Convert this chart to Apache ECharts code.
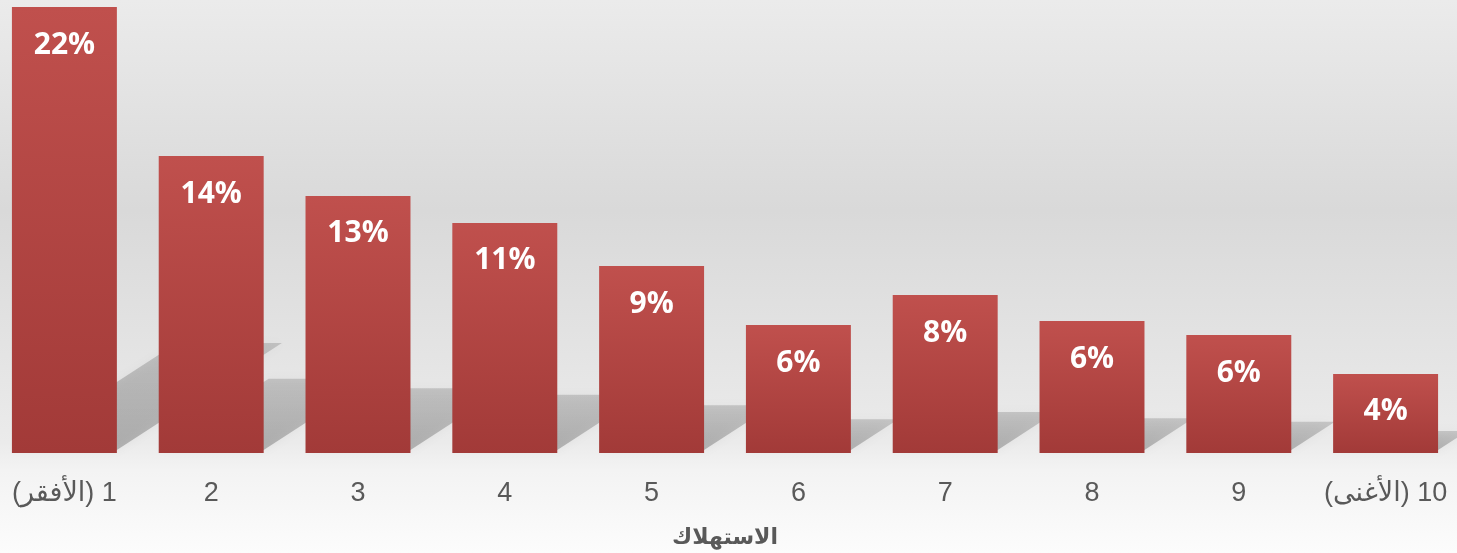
<!DOCTYPE html>
<html>
<head>
<meta charset="utf-8">
<title>الاستهلاك</title>
<script src="https://cdn.jsdelivr.net/npm/echarts@6/dist/echarts.min.js"></script>
<style>
  html, body { margin: 0; padding: 0; }
  #main { width: 1457px; height: 553px; }
</style>
</head>
<body>
<div id="main"></div>
<script type="text/javascript">
    // الفئات العشرية
    var categories = ['1 (الأفقر)', '2', '3', '4', '5', '6', '7', '8', '9', '10 (الأغنى)'];
    // القيم كما تقرأ من ارتفاع الأعمدة
    var shares = [22, 14.65, 12.68, 11.35, 9.22, 6.31, 7.79, 6.51, 5.82, 3.9];
    // النص المكتوب على كل عمود
    var shareLabels = ['22%', '14%', '13%', '11%', '9%', '6%', '8%', '6%', '6%', '4%'];
    var axisName = 'الاستهلاك';

    var myChart = echarts.init(document.getElementById('main'));

    // ظل مائل خلف كل عمود
    function renderShadow(params, api) {
        var idx = api.value(0);
        var top = api.coord([idx, api.value(1)]);
        var base = api.coord([idx, 0]);
        var w = api.size([1, 0])[0] * 0.715;
        var h = base[1] - top[1];
        var dy = h * 0.24, dx = h * 0.37;
        var x0 = base[0] - w / 2, x1 = base[0] + w / 2, y0 = base[1] - 3;
        return {
            type: 'polygon',
            shape: {
                points: [[x0, y0], [x1, y0], [x1 + dx, y0 - dy], [x0 + dx, y0 - dy]]
            },
            style: {
                fill: new echarts.graphic.LinearGradient(0, 1, 0, 0, [
                    { offset: 0, color: 'rgba(0,0,0,0.24)' },
                    { offset: 1, color: 'rgba(0,0,0,0.15)' }
                ]),
                shadowBlur: 10,
                shadowColor: 'rgba(0,0,0,0.2)'
            },
            silent: true
        };
    }

    var option = {
        backgroundColor: new echarts.graphic.LinearGradient(0, 0, 0, 1, [
            { offset: 0, color: '#ebebeb' },
            { offset: 0.38, color: '#d9d9d9' },
            { offset: 0.62, color: '#e3e3e3' },
            { offset: 0.8, color: '#ebebeb' },
            { offset: 0.85, color: '#f3f3f3' },
            { offset: 1, color: '#fcfcfc' }
        ]),
        animation: false,
        grid: {
            left: -9,
            right: -2,
            top: 7,
            bottom: 100,
            outerBoundsMode: 'none'
        },
        xAxis: {
            type: 'category',
            data: categories,
            name: axisName,
            nameLocation: 'middle',
            nameGap: 74,
            nameTextStyle: {
                color: '#595959',
                fontSize: 22,
                fontWeight: 'bold',
                fontFamily: 'DejaVu Sans'
            },
            axisLine: { show: false },
            axisTick: { show: false },
            axisLabel: {
                interval: 0,
                color: '#595959',
                fontSize: 27,
                margin: 27,
                fontFamily: 'Liberation Sans, DejaVu Sans',
                formatter: function (v) { return '\u202B' + v + '\u202C'; }
            }
        },
        yAxis: {
            type: 'value',
            min: 0,
            max: 22,
            show: false,
            splitLine: { show: false }
        },
        series: [
            {
                type: 'custom',
                renderItem: renderShadow,
                data: shares.map(function (v, i) { return [i, v]; }),
                z: 1
            },
            {
                type: 'bar',
                data: shares,
                barWidth: '71.5%',
                z: 2,
                itemStyle: {
                    color: new echarts.graphic.LinearGradient(0, 0, 0, 1, [
                        { offset: 0, color: '#c0504d' },
                        { offset: 1, color: '#a23a38' }
                    ])
                },
                label: {
                    show: true,
                    position: 'insideTop',
                    distance: 23,
                    color: '#ffffff',
                    fontSize: 30,
                    fontWeight: 'bold',
                    fontFamily: 'Open Sans',
                    formatter: function (p) { return shareLabels[p.dataIndex]; }
                }
            }
        ]
    };
    myChart.setOption(option);
</script>
</body>
</html>
